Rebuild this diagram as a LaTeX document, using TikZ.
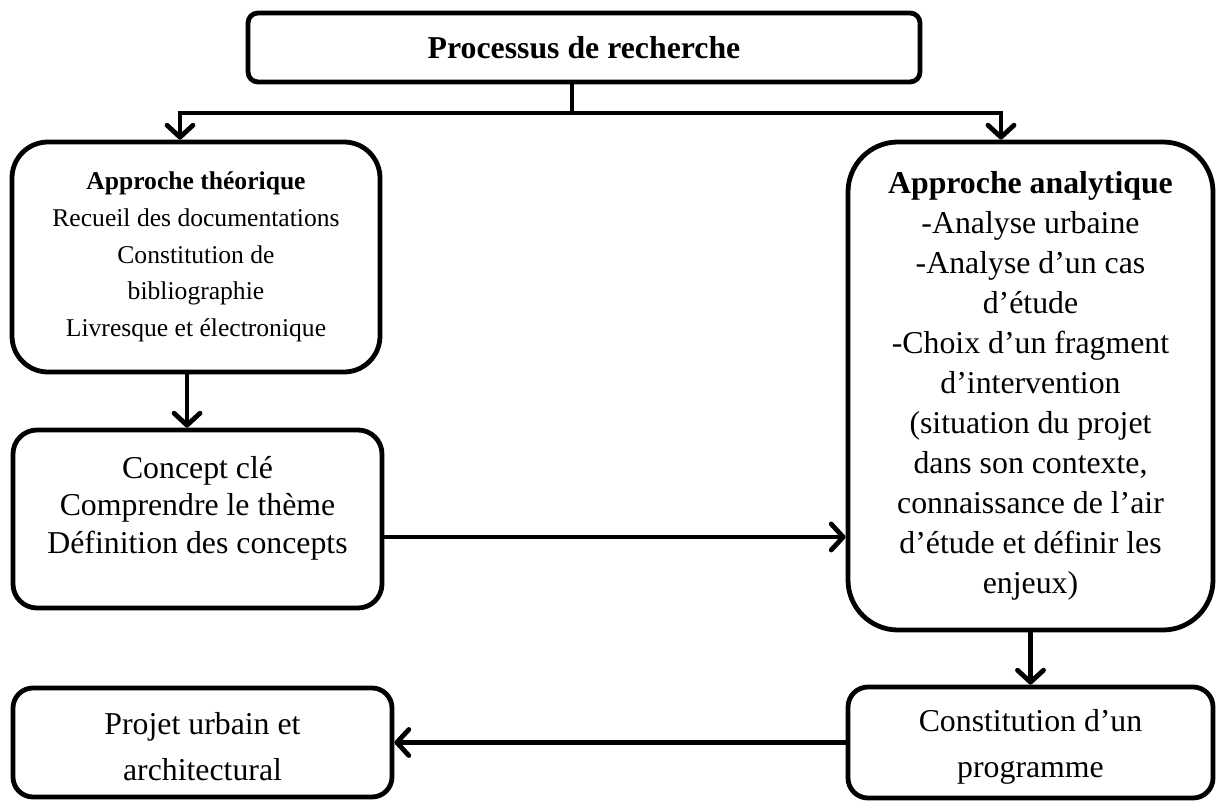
\documentclass[tikz,border=0pt]{standalone}
\usepackage{fontspec}
\setmainfont{Liberation Serif}
\usetikzlibrary{arrows.meta,calc}
\tikzset{box/.style={draw,line width=2.4pt,rounded corners=10pt,align=center,inner sep=2pt,fill=white},
  small/.style={font=\fontsize{12.8}{18.4}\selectfont},
  big/.style={font=\fontsize{15.9}{18.75}\selectfont},
  link/.style={line width=2.4pt},
  arr/.style={link,-{Straight Barb[round,length=6pt,width=13pt]}}}

\begin{document}
\begin{tikzpicture}[x=0.5pt,y=-0.5pt]
\useasboundingbox (0,0) rectangle (1219,801);
% boxes
\node[box,rounded corners=5pt,minimum width=336pt,minimum height=34.5pt,font=\bfseries\fontsize{15.9}{19}\selectfont] (proc) at (584,47.5){Processus de recherche};
\node[box,small,rounded corners=18pt,minimum width=184pt,minimum height=115pt] (theo) at (196,257){\textbf{Approche théorique}\\Recueil des documentations\\Constitution de\\bibliographie\\Livresque et électronique};
\node[box,big,rounded corners=12pt,minimum width=184.5pt,minimum height=89pt,text depth=14.5pt] (concept) at (197.5,519){Concept clé\\Comprendre le thème\\Définition des concepts};
\node[box,big,font=\fontsize{15.9}{20}\selectfont,rounded corners=25pt,minimum width=182.5pt,minimum height=244pt] (ana) at (1030.5,386){\textbf{Approche analytique}\\-Analyse urbaine\\-Analyse d’un cas\\d’étude\\-Choix d’un fragment\\d’intervention\\(situation du projet\\dans son contexte,\\connaissance de l’air\\d’étude et définir les\\enjeux)};
\node[box,big,font=\fontsize{15.9}{23}\selectfont,minimum width=182.5pt,minimum height=55.5pt,text height=38pt] (const) at (1030.5,742.5){Constitution d’un\\programme};
\node[box,big,font=\fontsize{15.9}{23}\selectfont,minimum width=189.5pt,minimum height=54.5pt,text height=38pt] (projet) at (202.5,742.5){Projet urbain et\\architectural};
% connectors
\coordinate (split) at (572,113);
\draw[link] (proc.south -| split) -- (split);
\draw[arr] (split) -| ($(theo.north)+(-16,0)$);
\draw[arr] (split) -| ($(ana.north)+(-29.5,0)$);
\draw[arr] ([xshift=-4.5pt]theo.south) -- ([xshift=-4.5pt]theo.south |- concept.north);
\draw[arr] ([yshift=-9pt]concept.east) -- ([yshift=-9pt]concept.east -| ana.west);
\draw[arr] (ana.south) -- (const.north);
\draw[arr] (const.west) -- (projet.east);
\end{tikzpicture}
\end{document}
